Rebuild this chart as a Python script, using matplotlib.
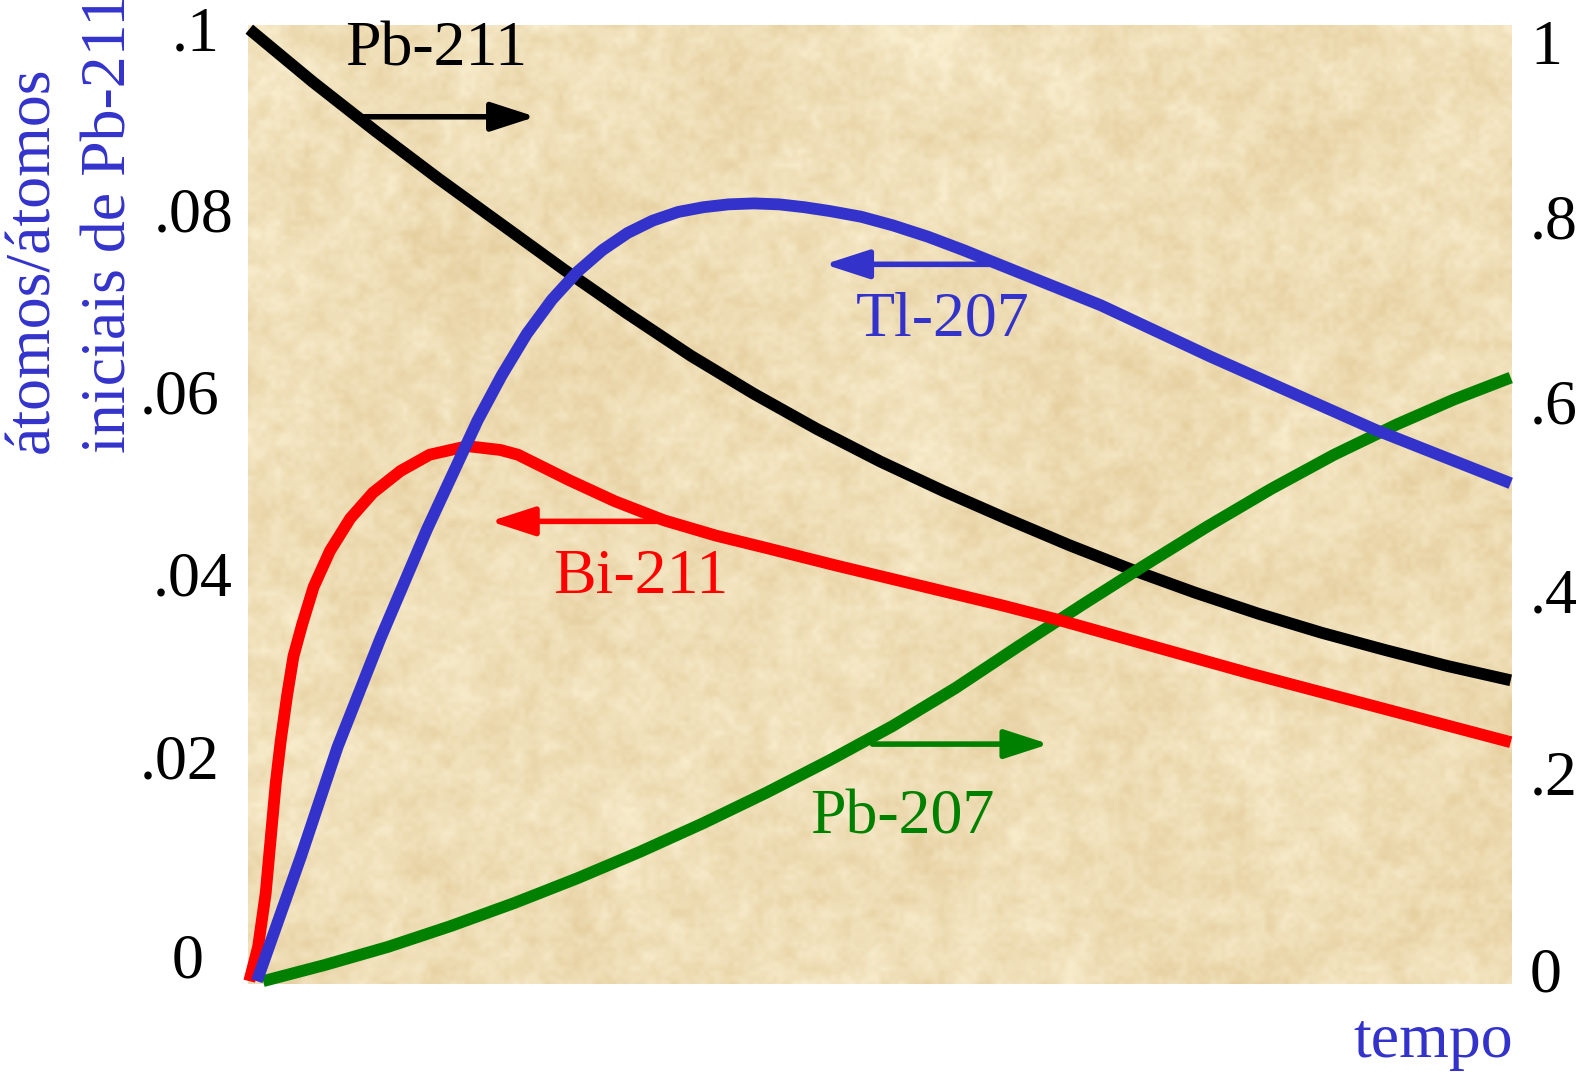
import numpy as np
import matplotlib.pyplot as plt
from matplotlib.transforms import ScaledTranslation

plt.rcParams['font.family'] = ['Liberation Serif', 'DejaVu Serif']

# time axis runs 0..1 (no tick values shown)
t_pb211 = [0.0, 0.05, 0.10, 0.15, 0.20, 0.25, 0.30, 0.35, 0.40, 0.45, 0.50,
           0.55, 0.60, 0.65, 0.70, 0.75, 0.80, 0.85, 0.90, 0.95, 1.0]
pb211   = [1.000, 0.945, 0.893, 0.843, 0.795, 0.747, 0.701, 0.657, 0.617, 0.580, 0.546,
           0.515, 0.486, 0.458, 0.432, 0.408, 0.386, 0.366, 0.348, 0.331, 0.316]

t_pb207 = [0.011, 0.06, 0.11, 0.16, 0.21, 0.26, 0.31, 0.36, 0.41, 0.46, 0.51,
           0.56, 0.61, 0.66, 0.71, 0.76, 0.81, 0.86, 0.91, 0.955, 1.0]
pb207   = [0.0, 0.017, 0.036, 0.058, 0.082, 0.108, 0.136, 0.166, 0.198, 0.232, 0.268,
           0.308, 0.352, 0.395, 0.437, 0.478, 0.517, 0.553, 0.585, 0.611, 0.634]

t_bi211 = [0.0, 0.007, 0.013, 0.017, 0.021, 0.025, 0.030, 0.035, 0.042, 0.051,
           0.064, 0.080, 0.098, 0.120, 0.143, 0.173, 0.199, 0.213, 0.254, 0.290,
           0.329, 0.370, 0.410, 0.464, 0.596, 0.640, 0.794, 1.0]
bi211   = [0.0, 0.0036, 0.0092, 0.0150, 0.0208, 0.0253, 0.0300, 0.0341, 0.0375, 0.0414,
           0.0452, 0.0486, 0.0513, 0.0536, 0.0553, 0.0562, 0.0558, 0.0553, 0.0526, 0.0504,
           0.0484, 0.0468, 0.0455, 0.0437, 0.0395, 0.0380, 0.0323, 0.0251]

t_tl207 = [0.006, 0.041, 0.070, 0.104, 0.141, 0.181, 0.20, 0.22, 0.24, 0.26, 0.28,
           0.30, 0.32, 0.34, 0.36, 0.38, 0.40, 0.42, 0.44, 0.46, 0.485, 0.51, 0.538,
           0.566, 0.596, 0.675, 0.762, 0.893, 1.0]
tl207   = [0.0, 0.0131, 0.0246, 0.0360, 0.0475, 0.0589, 0.0636, 0.0680, 0.0716, 0.0745, 0.0768,
           0.0786, 0.0799, 0.0808, 0.0813, 0.0816, 0.0817, 0.0816, 0.0813, 0.0809, 0.0803, 0.0794, 0.0782,
           0.0768, 0.0752, 0.0710, 0.0656, 0.0579, 0.0523]

left_ticks   = [0, 0.02, 0.04, 0.06, 0.08, 0.1]
left_labels  = ['0', '.02', '.04', '.06', '.08', '.1']
right_ticks  = [0, 0.2, 0.4, 0.6, 0.8, 1.0]
right_labels = ['0', '.2', '.4', '.6', '.8', '1']

# hand placed label nudges, pixels (dx, dy up)
left_shift  = [(-44, 26), (-28, 34), (-15, 27), (-29, 18), (-14, 10), (-28, 1)]
right_shift = [(18, 12), (18, 18), (18, 10), (18, 8), (18, 3), (18, -13)]

BLUE  = '#3333cc'
RED   = '#ff0000'
GREEN = '#008000'
fs    = 46
lw    = 8.5

# parchment texture
rng = np.random.default_rng(11)
H, W = 480, 632

def layer(ny, nx):
  a = rng.random((ny, nx))
  yi = np.linspace(0, ny - 1, H)
  xi = np.linspace(0, nx - 1, W)
  rows = np.array([np.interp(xi, np.arange(nx), r) for r in a])
  return np.array([np.interp(yi, np.arange(ny), c) for c in rows.T]).T

noise = 0.15*layer(5, 7) + 0.25*layer(18, 24) + 0.35*layer(70, 90) + 0.25*layer(200, 260)
noise = (noise - noise.min())/(noise.max() - noise.min())
light = np.array([250, 240, 210])/255
dark  = np.array([228, 204, 155])/255
tex = light + (dark - light)*noise[..., None]

fig = plt.figure(figsize=(15.81, 10.72), dpi=100)
pos = [248/1581, 1 - 984/1072, 1264/1581, 959/1072]

bg = fig.add_axes(pos, zorder=0)
bg.imshow(tex, aspect='auto', interpolation='bilinear')
bg.axis('off')

ax = fig.add_axes(pos, zorder=3)
ax2 = ax.twinx()
ax2.set_zorder(2)
for a in (ax, ax2):
  a.patch.set_visible(False)
  for s in a.spines.values():
    s.set_visible(False)
  a.set_xticks([])
  a.set_xlim(-0.001, 1.001)

ax.set_ylim(-0.0003, 0.10044)
ax2.set_ylim(-0.003, 1.0044)

style = dict(lw=lw, solid_capstyle='butt', solid_joinstyle='round', clip_on=False)
# right axis: Pb-211 and Pb-207
ax2.plot(t_pb211, pb211, color='black', **style)
ax2.plot(t_pb207, pb207, color=GREEN, **style)
# left axis: Bi-211 and Tl-207
ax.plot(t_bi211, bi211, color=RED, **style)
ax.plot(t_tl207, tl207, color=BLUE, **style)

ax.set_yticks(left_ticks)
ax.set_yticklabels(left_labels)
ax.tick_params(axis='y', length=0, pad=0, labelsize=fs)
ax2.set_yticks(right_ticks)
ax2.set_yticklabels(right_labels)
ax2.tick_params(axis='y', length=0, pad=0, labelsize=fs)

for lab, (dx, dy) in zip(ax.get_yticklabels(), left_shift):
  lab.set_transform(lab.get_transform() + ScaledTranslation(dx/100, dy/100, fig.dpi_scale_trans))
for lab, (dx, dy) in zip(ax2.get_yticklabels(), right_shift):
  lab.set_transform(lab.get_transform() + ScaledTranslation(dx/100, dy/100, fig.dpi_scale_trans))

arrow = lambda c: dict(arrowstyle='-|>,head_length=0.68,head_width=0.22', color=c, lw=4.0,
                       shrinkA=0, shrinkB=0, mutation_scale=40)

ax2.text(0.148, 0.962, 'Pb-211', color='black', fontsize=fs, ha='center', va='baseline')
ax2.annotate('', xy=(0.227, 0.908), xytext=(0.087, 0.908), arrowprops=arrow('black'))

ax.text(0.550, 0.0678, 'Tl-207', color=BLUE, fontsize=fs, ha='center', va='baseline')
ax.annotate('', xy=(0.456, 0.0753), xytext=(0.593, 0.0753), arrowprops=arrow(BLUE))

ax.text(0.310, 0.0408, 'Bi-211', color=RED, fontsize=fs, ha='center', va='baseline')
ax.annotate('', xy=(0.191, 0.0483), xytext=(0.328, 0.0483), arrowprops=arrow(RED))

ax2.text(0.518, 0.155, 'Pb-207', color=GREEN, fontsize=fs, ha='center', va='baseline')
ax2.annotate('', xy=(0.634, 0.249), xytext=(0.494, 0.249), arrowprops=arrow(GREEN))

fig.text(1513/1581, 1 - 1057/1072, 'tempo', color=BLUE, fontsize=fs, ha='right', va='baseline')
fig.text(48/1581, 1 - 453/1072, 'átomos/átomos', color=BLUE, fontsize=fs, rotation=90,
         rotation_mode='anchor', ha='left', va='baseline')
fig.text(125/1581, 1 - 453/1072, 'iniciais de Pb-211', color=BLUE, fontsize=fs, rotation=90,
         rotation_mode='anchor', ha='left', va='baseline')

fig.savefig('out.png', dpi=100)
plt.close()
